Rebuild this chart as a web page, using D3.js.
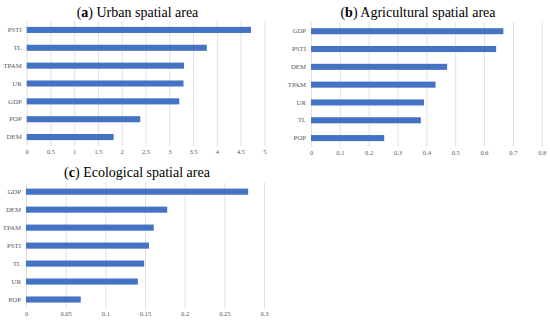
<!DOCTYPE html>
<html>
<head>
<meta charset="utf-8">
<script src="https://cdn.jsdelivr.net/npm/d3@7"></script>
<style>
  body { margin: 0; background: #fff; }
  svg { display: block; }
</style>
</head>
<body>
<svg id="chart" width="550" height="324"></svg>
<script>
// panel (a) Urban spatial area
var catsA = ["PSTI", "TL", "TPAM", "UR", "GDP", "POP", "DEM"]
var valsA = [4.72, 3.79, 3.31, 3.30, 3.21, 2.39, 1.83]
var ticksA = [0, 0.5, 1, 1.5, 2, 2.5, 3, 3.5, 4, 4.5, 5]

// panel (b) Agricultural spatial area
var catsB = ["GDP", "PSTI", "DEM", "TPAM", "UR", "TL", "POP"]
var valsB = [0.667, 0.642, 0.472, 0.432, 0.392, 0.381, 0.254]
var ticksB = [0, 0.1, 0.2, 0.3, 0.4, 0.5, 0.6, 0.7, 0.8]

// panel (c) Ecological spatial area
var catsC = ["GDP", "DEM", "TPAM", "PSTI", "TL", "UR", "POP"]
var valsC = [0.280, 0.178, 0.161, 0.155, 0.149, 0.141, 0.069]
var ticksC = [0, 0.05, 0.1, 0.15, 0.2, 0.25, 0.3]

var svg = d3.select("#chart")

var barColor = "#4472c4"
var gridColor = "#d9d9d9"
var textColor = "#595959"
var serif = "'Liberation Serif', 'DejaVu Serif', serif"

function drawPanel(opt) {
  var g = svg.append("g")

  var x = d3.scaleLinear()
            .domain([0, opt.ticks[opt.ticks.length - 1]])
            .range([opt.left, opt.right])

  var y = d3.scaleBand()
            .domain(opt.cats)
            .range([opt.top, opt.bottom])
            .paddingInner(0.66)
            .paddingOuter(0.33)

  // vertical gridlines + tick labels
  var xAxis = g.append("g")
               .attr("transform", "translate(0," + opt.bottom + ")")
               .call(d3.axisBottom(x)
                       .tickValues(opt.ticks)
                       .tickFormat(function(d) { return String(d) })
                       .tickSize(-(opt.bottom - opt.top))
                       .tickPadding(3))
  xAxis.select(".domain").remove()
  xAxis.selectAll("line").attr("stroke", gridColor).attr("stroke-width", 0.8)
  xAxis.selectAll("text")
       .attr("fill", textColor)
       .style("font-family", serif)
       .style("font-size", "6.5px")

  // category labels
  var yAxis = g.append("g")
               .attr("transform", "translate(" + opt.left + ",0)")
               .call(d3.axisLeft(y).tickSize(0).tickPadding(5))
  yAxis.select(".domain").remove()
  yAxis.selectAll("text")
       .attr("fill", textColor)
       .style("font-family", serif)
       .style("font-size", "6.8px")

  g.append("g").selectAll("rect").data(opt.vals).enter()
   .append("rect")
   .attr("x", x(0))
   .attr("y", function(d, i) { return y(opt.cats[i]) })
   .attr("width", function(d) { return x(d) - x(0) })
   .attr("height", y.bandwidth())
   .attr("fill", barColor)

  var title = g.append("text")
               .attr("x", opt.titleX)
               .attr("y", opt.titleY)
               .attr("text-anchor", "middle")
               .style("font-family", serif)
               .style("font-size", "14px")
               .attr("fill", "#000")
  title.append("tspan").text("(")
  title.append("tspan").attr("font-weight", "bold").text(opt.letter)
  title.append("tspan").text(") " + opt.title)
}

drawPanel({cats: catsA, vals: valsA, ticks: ticksA, letter: "a", title: "Urban spatial area",
           left: 26.7, right: 264.3, top: 21, bottom: 146, titleX: 137.5, titleY: 17})
drawPanel({cats: catsB, vals: valsB, ticks: ticksB, letter: "b", title: "Agricultural spatial area",
           left: 311, right: 541.7, top: 22.3, bottom: 147, titleX: 418, titleY: 17})
drawPanel({cats: catsC, vals: valsC, ticks: ticksC, letter: "c", title: "Ecological spatial area",
           left: 26, right: 264, top: 182.7, bottom: 308.5, titleX: 137, titleY: 177})
</script>
</body>
</html>
